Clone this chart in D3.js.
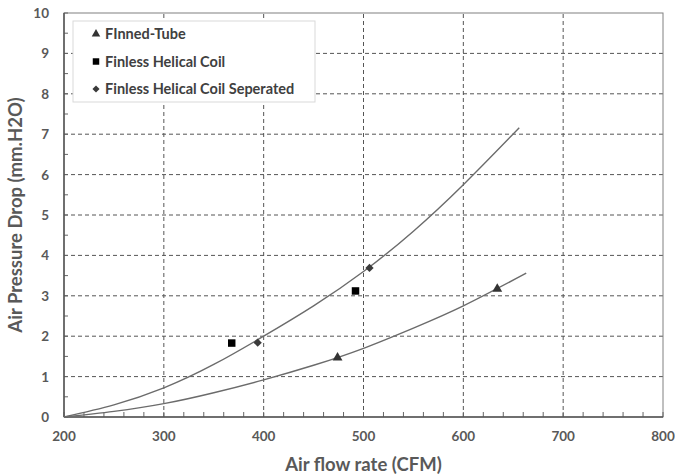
<!DOCTYPE html>
<html>
<head>
<meta charset="utf-8">
<script src="https://cdn.jsdelivr.net/npm/d3@7"></script>
<style>
body { margin: 0; background: #fff; }
text { font-family: Lato, "Open Sans", sans-serif; font-weight: bold; }
</style>
</head>
<body>
<div id="chart"></div>
<script>
const width = 675;
const height = 476;
const margin = { top: 13, right: 12, bottom: 59, left: 64 };

const xTicks = [200, 300, 400, 500, 600, 700, 800];
const yTicks = [0, 1, 2, 3, 4, 5, 6, 7, 8, 9, 10];

const seriesNames = ['FInned-Tube', 'Finless Helical Coil', 'Finless Helical Coil Seperated'];
const finnedX = [474, 634];
const finnedY = [1.47, 3.17];
const helicalX = [368, 492];
const helicalY = [1.83, 3.12];
const separatedX = [394, 506];
const separatedY = [1.84, 3.69];

// trendlines
const upperTrendX = [200, 250, 300, 350, 400, 450, 500, 550, 600, 656];
const upperTrendY = [0, 0.3, 0.72, 1.3, 2.0, 2.75, 3.6, 4.6, 5.75, 7.16];
const lowerTrendX = [200, 250, 300, 350, 400, 450, 500, 550, 600, 663];
const lowerTrendY = [0, 0.14, 0.33, 0.6, 0.92, 1.28, 1.7, 2.2, 2.75, 3.56];

const svg = d3.select('#chart').append('svg')
    .attr('width', width)
    .attr('height', height);

const x = d3.scaleLinear().domain([200, 800]).range([margin.left, width - margin.right]);
const y = d3.scaleLinear().domain([0, 10]).range([height - margin.bottom, margin.top]);

const gridColor = '#555';

// grid
svg.append('g').selectAll('line')
    .data(xTicks.slice(1, -1))
    .enter().append('line')
    .attr('x1', d => x(d)).attr('x2', d => x(d))
    .attr('y1', y(0)).attr('y2', y(10))
    .attr('stroke', gridColor)
    .attr('stroke-width', 1)
    .attr('stroke-dasharray', '4,3');
svg.append('g').selectAll('line')
    .data(yTicks.slice(1, -1))
    .enter().append('line')
    .attr('x1', x(200)).attr('x2', x(800))
    .attr('y1', d => y(d)).attr('y2', d => y(d))
    .attr('stroke', gridColor)
    .attr('stroke-width', 1)
    .attr('stroke-dasharray', '4,3');

// frame
svg.append('rect')
    .attr('x', x(200)).attr('y', y(10))
    .attr('width', x(800) - x(200)).attr('height', y(0) - y(10))
    .attr('fill', 'none')
    .attr('stroke', '#808080')
    .attr('stroke-width', 1);

// minor ticks, pointing inward
svg.append('g').selectAll('line')
    .data(d3.range(200, 801, 20))
    .enter().append('line')
    .attr('x1', d => x(d)).attr('x2', d => x(d))
    .attr('y1', y(0)).attr('y2', y(0) - 5)
    .attr('stroke', '#666');
svg.append('g').selectAll('line')
    .data(d3.range(0, 10.01, 0.5))
    .enter().append('line')
    .attr('x1', x(200)).attr('x2', x(200) + 4)
    .attr('y1', d => y(d)).attr('y2', d => y(d))
    .attr('stroke', '#666');

// main axes lines
svg.append('line')
    .attr('x1', x(200)).attr('x2', x(800))
    .attr('y1', y(0)).attr('y2', y(0))
    .attr('stroke', '#555').attr('stroke-width', 1.5);
svg.append('line')
    .attr('x1', x(200)).attr('x2', x(200))
    .attr('y1', y(0)).attr('y2', y(10))
    .attr('stroke', '#555').attr('stroke-width', 1.5);

// tick labels
svg.append('g').selectAll('text')
    .data(xTicks)
    .enter().append('text')
    .attr('x', d => x(d))
    .attr('y', y(0) + 24)
    .attr('text-anchor', 'middle')
    .attr('fill', '#595959')
    .style('font-size', '13.5px')
    .text(d => d);
svg.append('g').selectAll('text')
    .data(yTicks)
    .enter().append('text')
    .attr('x', x(200) - 15)
    .attr('y', d => y(d) + 5)
    .attr('text-anchor', 'end')
    .attr('fill', '#595959')
    .style('font-size', '13.5px')
    .text(d => d);

// axis titles
svg.append('text')
    .attr('x', x(500))
    .attr('y', 471)
    .attr('text-anchor', 'middle')
    .attr('fill', '#595959')
    .style('font-size', '18.5px')
    .text('Air flow rate (CFM)');
svg.append('text')
    .attr('transform', `translate(22,${y(5)}) rotate(-90)`)
    .attr('text-anchor', 'middle')
    .attr('fill', '#595959')
    .style('font-size', '18.5px')
    .text('Air Pressure Drop  (mm.H2O)');

// trendlines
const line = d3.line().x(d => x(d[0])).y(d => y(d[1])).curve(d3.curveNatural);
[[upperTrendX, upperTrendY], [lowerTrendX, lowerTrendY]].forEach(t => {
    svg.append('path')
        .attr('d', line(d3.zip(t[0], t[1])))
        .attr('fill', 'none')
        .attr('stroke', '#6b6b6b')
        .attr('stroke-width', 1.4);
});

// markers
const symbols = [
    { type: d3.symbolTriangle, size: 42, fill: '#333', rot: 0, xs: finnedX, ys: finnedY },
    { type: d3.symbolSquare, size: 56, fill: '#000', rot: 0, xs: helicalX, ys: helicalY },
    { type: d3.symbolSquare, size: 34, fill: '#3a3a3a', rot: 45, xs: separatedX, ys: separatedY }
];
symbols.forEach(s => {
    svg.append('g').selectAll('path')
        .data(d3.zip(s.xs, s.ys))
        .enter().append('path')
        .attr('d', d3.symbol().type(s.type).size(s.size))
        .attr('transform', d => `translate(${x(d[0])},${y(d[1])}) rotate(${s.rot})`)
        .attr('fill', s.fill);
});

// legend
const legend = svg.append('g');
legend.append('rect')
    .attr('x', 73).attr('y', 21)
    .attr('width', 242).attr('height', 81)
    .attr('fill', '#fff')
    .attr('stroke', '#d9d9d9');
seriesNames.forEach((name, i) => {
    const cy = 34 + i * 27.5;
    legend.append('path')
        .attr('d', d3.symbol().type(symbols[i].type).size(symbols[i].size * 0.75))
        .attr('transform', `translate(96,${cy}) rotate(${symbols[i].rot})`)
        .attr('fill', symbols[i].fill);
    legend.append('text')
        .attr('x', 105)
        .attr('y', cy + 5)
        .attr('fill', '#404040')
        .style('font-size', '14.5px')
        .text(name);
});
</script>
</body>
</html>
